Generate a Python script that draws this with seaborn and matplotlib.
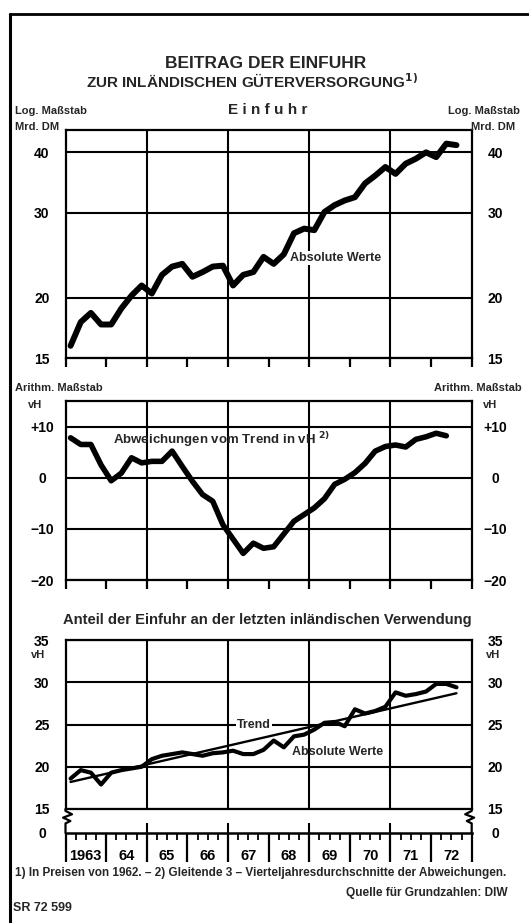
import numpy as np
import pandas as pd
import matplotlib
matplotlib.use("Agg")
import matplotlib.pyplot as plt
import seaborn as sns
from matplotlib import font_manager
from matplotlib.lines import Line2D
from matplotlib.ticker import NullLocator, NullFormatter

# ---------------- data ----------------
START_QUARTER = "1963Q1"
YEARS = list(range(1963, 1974))
YEAR_LABELS = ["1963", "64", "65", "66", "67", "68", "69", "70", "71", "72"]

# Einfuhr, Mrd. DM (log scale), quarterly 1963Q1 .. 1972Q3
EINFUHR = [15.9, 17.8, 18.6, 17.6, 17.6, 19.0, 20.2, 21.2, 20.4, 22.3,
           23.2, 23.5, 22.1, 22.6, 23.2, 23.3, 21.2, 22.3, 22.6, 24.3,
           23.5, 24.6, 27.2, 27.8, 27.6, 30.1, 31.1, 31.8, 32.3, 34.5,
           35.8, 37.3, 36.1, 37.9, 38.8, 40.0, 39.1, 41.7, 41.4]

# Abweichungen vom Trend in vH (3-quarter moving average)
ABWEICHUNG = [7.8, 6.5, 6.5, 2.5, -0.6, 0.9, 3.9, 2.9, 3.2, 3.2,
              5.2, 2.2, -0.7, -3.3, -4.6, -9.2, -12.0, -14.8, -12.8, -13.8,
              -13.5, -11.0, -8.5, -7.2, -5.9, -4.1, -1.3, -0.3, 1.0, 2.8,
              5.2, 6.1, 6.4, 6.0, 7.5, 8.0, 8.7, 8.2]

# Anteil der Einfuhr an der letzten inlaendischen Verwendung, vH
ANTEIL = [18.6, 19.6, 19.3, 17.9, 19.3, 19.6, 19.8, 20.0, 20.9, 21.3,
          21.5, 21.7, 21.5, 21.3, 21.6, 21.7, 21.9, 21.5, 21.5, 22.0,
          23.1, 22.3, 23.6, 23.8, 24.4, 25.2, 25.3, 24.8, 26.8, 26.3,
          26.6, 27.1, 28.8, 28.4, 28.6, 28.9, 29.8, 29.8, 29.4]
TREND_ENDS = [18.2, 28.7]

TOP_TICKS = [15, 20, 30, 40]
MID_TICKS = [-20, -10, 0, 10]
MID_TICKLABELS = ["\u221220", "\u221210", "0", "+10"]
BOT_TICKS = [15, 20, 25, 30, 35]
GRID_YEARS = [1965, 1967, 1969, 1971]

# quarter midpoints
per = pd.period_range(START_QUARTER, periods=len(EINFUHR), freq="Q")
T = np.array([p.year + (p.quarter - 0.5) / 4 for p in per])

# ---------------- style ----------------
sns.set_theme(style="white")
names = {f.name for f in font_manager.fontManager.ttflist}
FAM = "Liberation Sans" if "Liberation Sans" in names else "DejaVu Sans"
plt.rcParams["font.family"] = [FAM, "DejaVu Sans"]
plt.rcParams["font.weight"] = "bold"
plt.rcParams["mathtext.fontset"] = "dejavusans"
plt.rcParams["axes.linewidth"] = 1.6
plt.rcParams["axes.edgecolor"] = "black"

W, H = 529, 923
fig = plt.figure(figsize=(W / 100, H / 100), dpi=100)
fig.patch.set_facecolor("white")


def px_axes(left, top, right, bottom):
    return fig.add_axes([left / W, 1 - bottom / H, (right - left) / W, (bottom - top) / H])


def ftext(x, y, s, **kw):
    kw.setdefault("fontweight", "bold")
    kw.setdefault("va", "center")
    return fig.text(x / W, 1 - y / H, s, **kw)


L, R = 65.5, 471.7
LW_GRID = 1.5


def style_panel(ax, yticks, ylabels, xticks_out=True):
    ax.set_xlim(1963, 1973)
    ax.set_yticks(yticks)
    ax.set_yticklabels(ylabels)
    ax.yaxis.set_minor_locator(NullLocator())
    ax.yaxis.set_minor_formatter(NullFormatter())
    ax.set_xticks(GRID_YEARS)
    ax.set_xticks(YEARS, minor=True)
    ax.grid(True, which="major", color="black", linewidth=LW_GRID)
    ax.set_axisbelow(True)
    ax.tick_params(axis="y", which="both", length=0, pad=17, labelsize=10,
                   labelleft=True, labelright=True, labelcolor="black")
    ax.tick_params(axis="x", which="both", direction="out", bottom=xticks_out,
                   length=6.5 if xticks_out else 0, width=1.6, color="black",
                   labelbottom=False)
    for tk in ax.yaxis.get_major_ticks():
        tk.label1.set_horizontalalignment("center")
        tk.label2.set_horizontalalignment("center")
        tk.label1.set_fontweight("bold")
        tk.label2.set_fontweight("bold")
    for s in ax.spines.values():
        s.set_linewidth(1.6)
        s.set_color("black")
    ax.set_xlabel("")
    ax.set_ylabel("")


# ---- top panel: Einfuhr (log) ----
ax1 = px_axes(L, 130, R, 358)
ax1.set_yscale("log")
sns.lineplot(x=T, y=EINFUHR, ax=ax1, color="black", linewidth=4.3,
             solid_joinstyle="round", solid_capstyle="round")
ax1.set_ylim(15, 44.5)
style_panel(ax1, TOP_TICKS, [str(v) for v in TOP_TICKS])

# ---- middle panel: Abweichungen ----
ax2 = px_axes(L, 401, R, 580)
sns.lineplot(x=T[:len(ABWEICHUNG)], y=ABWEICHUNG, ax=ax2, color="black",
             linewidth=4.0, solid_joinstyle="round", solid_capstyle="round")
ax2.set_ylim(-20, 15)
style_panel(ax2, MID_TICKS, MID_TICKLABELS)

# ---- bottom panel: Anteil ----
ax3 = px_axes(L, 640, R, 809)
sns.lineplot(x=[T[0], T[-1]], y=TREND_ENDS, ax=ax3, color="black", linewidth=1.7)
sns.lineplot(x=T, y=ANTEIL, ax=ax3, color="black", linewidth=3.0,
             solid_joinstyle="round", solid_capstyle="round")
ax3.set_ylim(15, 35)
style_panel(ax3, BOT_TICKS, [str(v) for v in BOT_TICKS], xticks_out=False)

# ---- break axis with zero line and year labels ----
ax4 = px_axes(L, 809, R, 833)
ax4.set_xlim(1963, 1973)
ax4.set_ylim(0, 1)
ax4.set_facecolor("none")
for side in ["top", "left", "right"]:
    ax4.spines[side].set_visible(False)
ax4.spines["bottom"].set_linewidth(1.8)
mids = [y + 0.5 for y in YEARS[:-1]]
ax4.set_xticks(mids)
ax4.set_xticklabels(YEAR_LABELS)
qt = [y + q for y in YEARS[:-1] for q in (0.25, 0.75)]
ax4.set_xticks(qt, minor=True)
ax4.tick_params(axis="x", which="both", direction="out", bottom=True, length=5,
                width=1.3, color="black", pad=6.5, labelsize=10.5, labelcolor="black")
for lab in ax4.get_xticklabels():
    lab.set_fontweight("bold")
ax4.set_yticks([0])
ax4.set_yticklabels(["0"])
ax4.tick_params(axis="y", length=0, pad=17, labelsize=10, labelleft=True,
                labelright=True, labelcolor="black")
for tk in ax4.yaxis.get_major_ticks():
    tk.label1.set_horizontalalignment("center")
    tk.label2.set_horizontalalignment("center")
    tk.label1.set_fontweight("bold")
    tk.label2.set_fontweight("bold")
ax4.vlines(YEARS, -1.2, 0, transform=ax4.get_xaxis_transform(), colors="black",
           linewidth=1.6, clip_on=False)
ax4.vlines(GRID_YEARS, 0, 0.42, transform=ax4.get_xaxis_transform(), colors="black",
           linewidth=LW_GRID, clip_on=False)
zx = [0, 0, 0.016, -0.006, 0.012, 0, 0]
zy = [1, 0.92, 0.78, 0.64, 0.5, 0.4, 0]
ax4.plot(zx, zy, transform=ax4.transAxes, color="black", lw=1.6, clip_on=False)
ax4.plot([1 - v for v in zx], zy, transform=ax4.transAxes, color="black", lw=1.6,
         clip_on=False)

# ---------------- texts ----------------
ftext(266, 63, "BEITRAG DER EINFUHR", ha="center", fontsize=12.5)
ftext(252, 82, r"ZUR INLÄNDISCHEN GÜTERVERSORGUNG$^{\mathbf{1)}}$", ha="center",
      fontsize=11)
ftext(268, 110, "E i n f u h r", ha="center", fontsize=11)
ftext(15, 111, "Log. Maßstab", ha="left", fontsize=8)
ftext(15, 127, "Mrd. DM", ha="left", fontsize=8)
ftext(520, 111, "Log. Maßstab", ha="right", fontsize=8)
ftext(515, 127, "Mrd. DM", ha="right", fontsize=8)

ftext(15, 388, "Arithm. Maßstab", ha="left", fontsize=8)
ftext(522, 388, "Arithm. Maßstab", ha="right", fontsize=8)
ftext(35, 405, "vH", ha="center", fontsize=8)
ftext(490, 405, "vH", ha="center", fontsize=8)
ftext(113, 440, r"Abweichungen vom Trend in vH $^{\mathbf{2)}}$", ha="left", fontsize=9.5)

ftext(290, 258, "Absolute Werte", ha="left", fontsize=9,
      bbox=dict(facecolor="white", edgecolor="none", pad=0.5))

ftext(267, 620, "Anteil der Einfuhr an der letzten inländischen Verwendung",
      ha="center", fontsize=10.6)
ftext(38, 655, "vH", ha="center", fontsize=8)
ftext(493, 655, "vH", ha="center", fontsize=8)
ftext(254, 725, "Trend", ha="center", fontsize=9,
      bbox=dict(facecolor="white", edgecolor="none", pad=0.5))
ftext(292, 752, "Absolute Werte", ha="left", fontsize=9)

ftext(15, 873, "1) In Preisen von 1962. \u2013 2) Gleitende 3 \u2013 Vierteljahresdurchschnitte der Abweichungen.",
      ha="left", fontsize=8.5)
ftext(508, 893, "Quelle für Grundzahlen: DIW", ha="right", fontsize=8.6)
ftext(13, 908, "SR 72 599", ha="left", fontsize=9)

# outer frame lines
fig.add_artist(Line2D([10 / W, 10 / W], [1 - 14 / H, 0], transform=fig.transFigure,
                      color="black", lw=2.2))
fig.add_artist(Line2D([10 / W, 1], [1 - 14 / H, 1 - 14 / H], transform=fig.transFigure,
                      color="black", lw=2.0))

fig.savefig("out.png", dpi=100, facecolor="white")
